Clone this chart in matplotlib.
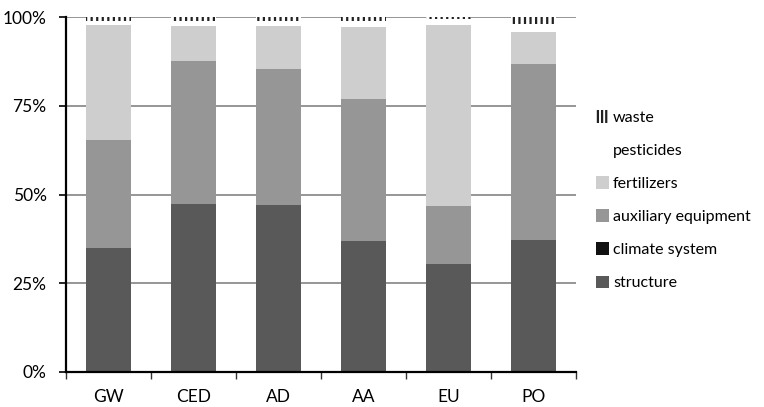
import numpy as np
import matplotlib
matplotlib.use("Agg")
from matplotlib import pyplot as plt
from matplotlib.patches import Patch
from matplotlib.ticker import FixedLocator, PercentFormatter

plt.rcParams["font.family"] = ["Lato", "DejaVu Sans"]
plt.rcParams["hatch.linewidth"] = 1.6

sites = ["GW", "CED", "AD", "AA", "EU", "PO"]
structure = [34.9, 47.3, 47.0, 37.0, 30.4, 37.1]
climate = [0.0, 0.0, 0.0, 0.0, 0.0, 0.0]
auxiliary = [30.5, 40.3, 38.4, 39.9, 16.4, 49.7]
fertilizers = [32.4, 9.9, 12.1, 20.2, 51.0, 9.0]
pesticides = [1.1, 1.4, 1.4, 1.8, 1.5, 2.1]
waste = [1.1, 1.1, 1.1, 1.1, 0.7, 2.1]

series = [
    ("structure", structure, "#595959", None),
    ("climate system", climate, "#111111", None),
    ("auxiliary equipment", auxiliary, "#969696", None),
    ("fertilizers", fertilizers, "#cdcecd", None),
    ("pesticides", pesticides, "white", None),
    ("waste", waste, "white", "|||"),
]

fig = plt.figure(figsize=(7.64, 4.07), dpi=100)
ax = fig.add_axes([66/764, 35/407, 510/764, 355/407])

x = np.arange(len(sites))
bottom = np.zeros(len(sites))
handles = []
for label, vals, col, hatch in series:
    vals = np.array(vals)
    ax.bar(x, vals, 0.54, bottom=bottom, color=col, label=label,
           hatch=hatch, edgecolor="#222222" if hatch else col,
           linewidth=0, zorder=2)
    # legend proxy; waste gets a denser hatch so the small box shows III
    handles.append(Patch(facecolor=col, edgecolor="#222222" if hatch else col,
                         hatch="||||" if hatch else None, linewidth=0))
    bottom += vals

ax.set_xlim(-0.5, 5.5)
ax.set_ylim(0, 100)
ax.set_yticks([0, 25, 50, 75, 100])
ax.yaxis.set_major_formatter(PercentFormatter(decimals=0))
ax.yaxis.grid(True, color="#969696", linewidth=1.4, zorder=0)
ax.set_axisbelow(True)

ax.set_xticks(x)
ax.set_xticklabels(sites)
ax.xaxis.set_minor_locator(FixedLocator(np.arange(-0.5, 6, 1)))
ax.tick_params(axis="x", which="major", length=0, pad=12, labelsize=12.5)
ax.tick_params(axis="x", which="minor", length=5, width=1, color="#333333")
ax.tick_params(axis="y", length=5, width=1.2, labelsize=12.5, pad=9)

for s in ["top", "right"]:
    ax.spines[s].set_visible(False)
ax.spines["left"].set_linewidth(1.6)
ax.spines["bottom"].set_linewidth(1.6)

fig.legend(handles[::-1], [s[0] for s in series][::-1],
           loc="upper left", bbox_to_anchor=(582/764, 1 - 96/407),
           frameon=False, fontsize=11.5, handlelength=0.8, handleheight=0.8,
           handletextpad=0.25, labelspacing=1.15)

fig.savefig("out.png", dpi=100)
